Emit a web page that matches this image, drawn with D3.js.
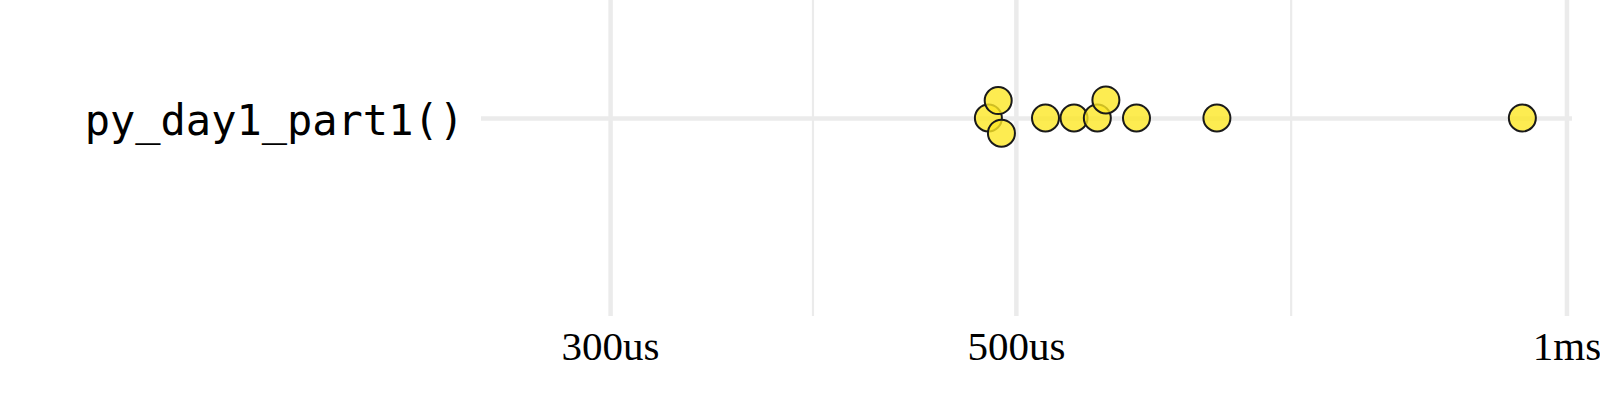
<!DOCTYPE html>
<html>
<head>
<meta charset="utf-8">
<script src="https://cdn.jsdelivr.net/npm/d3@7"></script>
<style>
  body { margin: 0; background: #fff; }
  svg { display: block; }
</style>
</head>
<body>
<div id="chart"></div>
<script>
// Function names on the y axis
const functions = ["py_day1_part1()"];

// Timings per run, in microseconds
const timings = [483, 489, 491, 519, 538, 554, 560, 582, 644, 946];

// Major breaks and their labels
const tickValues = [300, 500, 1000];
const tickLabels = ["300us", "500us", "1ms"];

const width = 1600, height = 400;
const panel = { left: 481, right: 1572, top: -80, bottom: 316 };

const svg = d3.select("#chart")
  .append("svg")
    .attr("width", width)
    .attr("height", height);

// Log x scale, like scale_x_log10
const x = d3.scaleLog()
    .domain([255, 1007])
    .range([panel.left, panel.right]);

// One row per function
const y = d3.scalePoint()
    .domain(functions)
    .range([panel.bottom, panel.top])
    .padding(0.5);

// Minor gridlines sit half way between major breaks (in log space)
const minorValues = d3.pairs(tickValues).map(([a, b]) => Math.sqrt(a * b));

svg.append("g")
  .selectAll("line")
  .data(minorValues)
  .enter()
  .append("line")
    .attr("x1", d => x(d))
    .attr("x2", d => x(d))
    .attr("y1", panel.top)
    .attr("y2", panel.bottom)
    .attr("stroke", "#ebebeb")
    .attr("stroke-width", 2.2);

// X axis: major gridlines + labels
const xAxis = svg.append("g")
    .attr("transform", `translate(0,${panel.bottom})`)
    .call(d3.axisBottom(x)
      .tickValues(tickValues)
      .tickFormat((d, i) => tickLabels[i])
      .tickSizeInner(-(panel.bottom - panel.top))
      .tickSizeOuter(0));

xAxis.select(".domain").remove();
xAxis.selectAll(".tick line")
    .attr("stroke", "#ebebeb")
    .attr("stroke-width", 4.5);
xAxis.selectAll(".tick text")
    .attr("y", 44)
    .attr("dy", null)
    .attr("fill", "#000")
    .style("font-family", "'Liberation Serif', 'DejaVu Serif', serif")
    .style("font-size", "41px");

// Y axis: horizontal gridline + function name
const yAxis = svg.append("g")
    .attr("transform", `translate(${panel.left},0)`)
    .call(d3.axisLeft(y)
      .tickSizeInner(-(panel.right - panel.left))
      .tickSizeOuter(0)
      .tickPadding(17));

yAxis.select(".domain").remove();
yAxis.selectAll(".tick line")
    .attr("stroke", "#ebebeb")
    .attr("stroke-width", 4.5);
yAxis.selectAll(".tick text")
    .attr("dy", "0.4em")
    .attr("fill", "#000")
    .style("font-family", "'DejaVu Sans Mono', monospace")
    .style("font-size", "42px");

// Simple beeswarm: place points in x order, nearest free offset to the row
const collide = 20;
const placed = [];
timings.slice().sort((a, b) => a - b).forEach(v => {
  const px = x(v);
  const near = placed.filter(p => Math.abs(p.px - px) < collide);
  const candidates = [0];
  near.forEach(p => {
    const dy = Math.sqrt(collide * collide - (p.px - px) ** 2);
    candidates.push(p.off - dy, p.off + dy);
  });
  const free = candidates.filter(c =>
    near.every(p => Math.hypot(p.px - px, p.off - c) >= collide - 1e-6));
  free.sort((a, b) => Math.abs(a) - Math.abs(b) || a - b);
  placed.push({ v: v, px: px, off: free[0] });
});

svg.append("g")
  .selectAll("circle")
  .data(placed)
  .enter()
  .append("circle")
    .attr("cx", d => x(d.v))
    .attr("cy", d => y(functions[0]) + d.off)
    .attr("r", 13.5)
    .attr("fill", "#fde725")
    .attr("fill-opacity", 0.8)
    .attr("stroke", "#1a1a1a")
    .attr("stroke-width", 2);
</script>
</body>
</html>
